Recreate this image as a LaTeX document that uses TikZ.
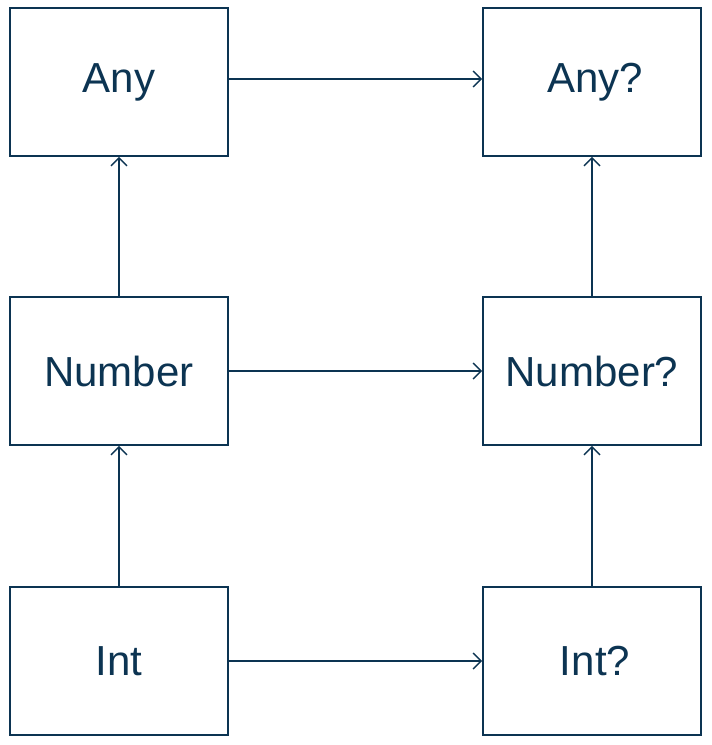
\documentclass[tikz,border=0pt]{standalone}
\usepackage{fontspec}
\setmainfont{Liberation Sans}
\usetikzlibrary{arrows.meta}
\definecolor{ink}{RGB}{12,52,82}
\begin{document}
\begin{tikzpicture}[x=1pt,y=-1pt,
  box/.style={draw=ink,line width=1.8pt,minimum width=218pt,minimum height=148pt,inner sep=0pt,text=ink,font=\fontsize{42}{50}\selectfont},
  conn/.style={draw=ink,line width=1.4pt,-{Straight Barb[length=8pt,width=16pt,line width=1.4pt]}}]
\useasboundingbox (0,0) rectangle (712,745);
\node[box] (any) at (119,82) {Any};
\node[box] (anyq) at (592,82) {\hspace*{6pt}Any?};
\node[box] (num) at (119,371) {Number};
\node[box] (numq) at (592,371) {Number?};
\node[box] (int) at (119,661) {Int};
\node[box] (intq) at (592,661) {\hspace*{6pt}Int?};
\draw[conn] (any.east |- 0,79) -- (anyq.west |- 0,79);
\draw[conn] (num) -- (numq);
\draw[conn] (int) -- (intq);
\draw[conn] (num) -- (any);
\draw[conn] (int) -- (num);
\draw[conn] (numq) -- (anyq);
\draw[conn] (intq) -- (numq);
\end{tikzpicture}
\end{document}
